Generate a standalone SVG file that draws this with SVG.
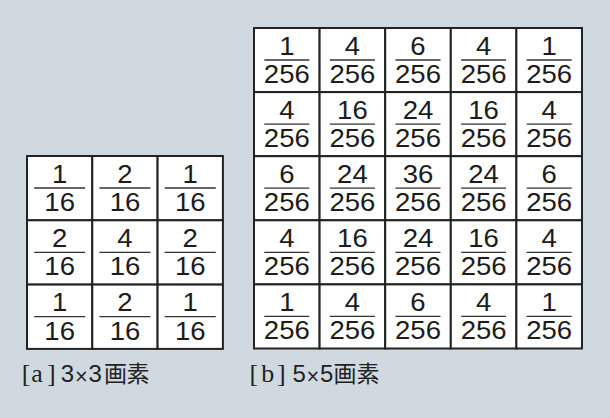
<svg xmlns="http://www.w3.org/2000/svg" width="610" height="418" viewBox="0 0 610 418">
<style>
.bg{fill:#d0d9df}
.cell{fill:#fff;stroke:#222;stroke-width:2}
.n{font-family:"Liberation Sans",Arial,sans-serif;font-size:25px;fill:#1c1c1c;text-anchor:middle}
.bar{stroke:#333;stroke-width:1.3}
.lbl{fill:#222}
.ser{font-family:"Liberation Serif","Times New Roman",serif;font-size:26px}
.dig{font-family:"Liberation Sans",Arial,sans-serif;font-size:24px}
.mul{font-family:"DejaVu Sans",sans-serif;font-size:17px}
.jp{font-family:"Noto Sans CJK JP","Noto Sans",sans-serif;font-size:23px}
</style>
<rect class="bg" x="0" y="0" width="610" height="418"/>
<g id="grid3">
<g id="a-r0c0"><rect class="cell" x="27" y="156" width="65.3" height="64.3"/><text class="n" x="59.65" y="182.5" textLength="15.3" lengthAdjust="spacingAndGlyphs">1</text><line class="bar" x1="34.15" y1="188" x2="85.15" y2="188"/><text class="n" x="59.65" y="211" textLength="30.6" lengthAdjust="spacingAndGlyphs">16</text></g>
<g id="a-r0c1"><rect class="cell" x="92.3" y="156" width="65.3" height="64.3"/><text class="n" x="124.95" y="182.5" textLength="15.3" lengthAdjust="spacingAndGlyphs">2</text><line class="bar" x1="99.45" y1="188" x2="150.45" y2="188"/><text class="n" x="124.95" y="211" textLength="30.6" lengthAdjust="spacingAndGlyphs">16</text></g>
<g id="a-r0c2"><rect class="cell" x="157.6" y="156" width="65.3" height="64.3"/><text class="n" x="190.25" y="182.5" textLength="15.3" lengthAdjust="spacingAndGlyphs">1</text><line class="bar" x1="164.75" y1="188" x2="215.75" y2="188"/><text class="n" x="190.25" y="211" textLength="30.6" lengthAdjust="spacingAndGlyphs">16</text></g>
<g id="a-r1c0"><rect class="cell" x="27" y="220.3" width="65.3" height="64.3"/><text class="n" x="59.65" y="246.8" textLength="15.3" lengthAdjust="spacingAndGlyphs">2</text><line class="bar" x1="34.15" y1="252.3" x2="85.15" y2="252.3"/><text class="n" x="59.65" y="275.3" textLength="30.6" lengthAdjust="spacingAndGlyphs">16</text></g>
<g id="a-r1c1"><rect class="cell" x="92.3" y="220.3" width="65.3" height="64.3"/><text class="n" x="124.95" y="246.8" textLength="15.3" lengthAdjust="spacingAndGlyphs">4</text><line class="bar" x1="99.45" y1="252.3" x2="150.45" y2="252.3"/><text class="n" x="124.95" y="275.3" textLength="30.6" lengthAdjust="spacingAndGlyphs">16</text></g>
<g id="a-r1c2"><rect class="cell" x="157.6" y="220.3" width="65.3" height="64.3"/><text class="n" x="190.25" y="246.8" textLength="15.3" lengthAdjust="spacingAndGlyphs">2</text><line class="bar" x1="164.75" y1="252.3" x2="215.75" y2="252.3"/><text class="n" x="190.25" y="275.3" textLength="30.6" lengthAdjust="spacingAndGlyphs">16</text></g>
<g id="a-r2c0"><rect class="cell" x="27" y="284.6" width="65.3" height="64.3"/><text class="n" x="59.65" y="311.1" textLength="15.3" lengthAdjust="spacingAndGlyphs">1</text><line class="bar" x1="34.15" y1="316.6" x2="85.15" y2="316.6"/><text class="n" x="59.65" y="339.6" textLength="30.6" lengthAdjust="spacingAndGlyphs">16</text></g>
<g id="a-r2c1"><rect class="cell" x="92.3" y="284.6" width="65.3" height="64.3"/><text class="n" x="124.95" y="311.1" textLength="15.3" lengthAdjust="spacingAndGlyphs">2</text><line class="bar" x1="99.45" y1="316.6" x2="150.45" y2="316.6"/><text class="n" x="124.95" y="339.6" textLength="30.6" lengthAdjust="spacingAndGlyphs">16</text></g>
<g id="a-r2c2"><rect class="cell" x="157.6" y="284.6" width="65.3" height="64.3"/><text class="n" x="190.25" y="311.1" textLength="15.3" lengthAdjust="spacingAndGlyphs">1</text><line class="bar" x1="164.75" y1="316.6" x2="215.75" y2="316.6"/><text class="n" x="190.25" y="339.6" textLength="30.6" lengthAdjust="spacingAndGlyphs">16</text></g>
</g>
<g id="grid5">
<g id="b-r0c0"><rect class="cell" x="254" y="28" width="65.6" height="64.1"/><text class="n" x="286.8" y="54.5" textLength="15.3" lengthAdjust="spacingAndGlyphs">1</text><line class="bar" x1="264.3" y1="60" x2="309.3" y2="60"/><text class="n" x="286.8" y="83" textLength="45.9" lengthAdjust="spacingAndGlyphs">256</text></g>
<g id="b-r0c1"><rect class="cell" x="319.6" y="28" width="65.6" height="64.1"/><text class="n" x="352.4" y="54.5" textLength="15.3" lengthAdjust="spacingAndGlyphs">4</text><line class="bar" x1="329.9" y1="60" x2="374.9" y2="60"/><text class="n" x="352.4" y="83" textLength="45.9" lengthAdjust="spacingAndGlyphs">256</text></g>
<g id="b-r0c2"><rect class="cell" x="385.2" y="28" width="65.6" height="64.1"/><text class="n" x="418" y="54.5" textLength="15.3" lengthAdjust="spacingAndGlyphs">6</text><line class="bar" x1="395.5" y1="60" x2="440.5" y2="60"/><text class="n" x="418" y="83" textLength="45.9" lengthAdjust="spacingAndGlyphs">256</text></g>
<g id="b-r0c3"><rect class="cell" x="450.8" y="28" width="65.6" height="64.1"/><text class="n" x="483.6" y="54.5" textLength="15.3" lengthAdjust="spacingAndGlyphs">4</text><line class="bar" x1="461.1" y1="60" x2="506.1" y2="60"/><text class="n" x="483.6" y="83" textLength="45.9" lengthAdjust="spacingAndGlyphs">256</text></g>
<g id="b-r0c4"><rect class="cell" x="516.4" y="28" width="65.6" height="64.1"/><text class="n" x="549.2" y="54.5" textLength="15.3" lengthAdjust="spacingAndGlyphs">1</text><line class="bar" x1="526.7" y1="60" x2="571.7" y2="60"/><text class="n" x="549.2" y="83" textLength="45.9" lengthAdjust="spacingAndGlyphs">256</text></g>
<g id="b-r1c0"><rect class="cell" x="254" y="92.1" width="65.6" height="64.1"/><text class="n" x="286.8" y="118.6" textLength="15.3" lengthAdjust="spacingAndGlyphs">4</text><line class="bar" x1="264.3" y1="124.1" x2="309.3" y2="124.1"/><text class="n" x="286.8" y="147.1" textLength="45.9" lengthAdjust="spacingAndGlyphs">256</text></g>
<g id="b-r1c1"><rect class="cell" x="319.6" y="92.1" width="65.6" height="64.1"/><text class="n" x="352.4" y="118.6" textLength="30.6" lengthAdjust="spacingAndGlyphs">16</text><line class="bar" x1="329.9" y1="124.1" x2="374.9" y2="124.1"/><text class="n" x="352.4" y="147.1" textLength="45.9" lengthAdjust="spacingAndGlyphs">256</text></g>
<g id="b-r1c2"><rect class="cell" x="385.2" y="92.1" width="65.6" height="64.1"/><text class="n" x="418" y="118.6" textLength="30.6" lengthAdjust="spacingAndGlyphs">24</text><line class="bar" x1="395.5" y1="124.1" x2="440.5" y2="124.1"/><text class="n" x="418" y="147.1" textLength="45.9" lengthAdjust="spacingAndGlyphs">256</text></g>
<g id="b-r1c3"><rect class="cell" x="450.8" y="92.1" width="65.6" height="64.1"/><text class="n" x="483.6" y="118.6" textLength="30.6" lengthAdjust="spacingAndGlyphs">16</text><line class="bar" x1="461.1" y1="124.1" x2="506.1" y2="124.1"/><text class="n" x="483.6" y="147.1" textLength="45.9" lengthAdjust="spacingAndGlyphs">256</text></g>
<g id="b-r1c4"><rect class="cell" x="516.4" y="92.1" width="65.6" height="64.1"/><text class="n" x="549.2" y="118.6" textLength="15.3" lengthAdjust="spacingAndGlyphs">4</text><line class="bar" x1="526.7" y1="124.1" x2="571.7" y2="124.1"/><text class="n" x="549.2" y="147.1" textLength="45.9" lengthAdjust="spacingAndGlyphs">256</text></g>
<g id="b-r2c0"><rect class="cell" x="254" y="156.2" width="65.6" height="64.1"/><text class="n" x="286.8" y="182.7" textLength="15.3" lengthAdjust="spacingAndGlyphs">6</text><line class="bar" x1="264.3" y1="188.2" x2="309.3" y2="188.2"/><text class="n" x="286.8" y="211.2" textLength="45.9" lengthAdjust="spacingAndGlyphs">256</text></g>
<g id="b-r2c1"><rect class="cell" x="319.6" y="156.2" width="65.6" height="64.1"/><text class="n" x="352.4" y="182.7" textLength="30.6" lengthAdjust="spacingAndGlyphs">24</text><line class="bar" x1="329.9" y1="188.2" x2="374.9" y2="188.2"/><text class="n" x="352.4" y="211.2" textLength="45.9" lengthAdjust="spacingAndGlyphs">256</text></g>
<g id="b-r2c2"><rect class="cell" x="385.2" y="156.2" width="65.6" height="64.1"/><text class="n" x="418" y="182.7" textLength="30.6" lengthAdjust="spacingAndGlyphs">36</text><line class="bar" x1="395.5" y1="188.2" x2="440.5" y2="188.2"/><text class="n" x="418" y="211.2" textLength="45.9" lengthAdjust="spacingAndGlyphs">256</text></g>
<g id="b-r2c3"><rect class="cell" x="450.8" y="156.2" width="65.6" height="64.1"/><text class="n" x="483.6" y="182.7" textLength="30.6" lengthAdjust="spacingAndGlyphs">24</text><line class="bar" x1="461.1" y1="188.2" x2="506.1" y2="188.2"/><text class="n" x="483.6" y="211.2" textLength="45.9" lengthAdjust="spacingAndGlyphs">256</text></g>
<g id="b-r2c4"><rect class="cell" x="516.4" y="156.2" width="65.6" height="64.1"/><text class="n" x="549.2" y="182.7" textLength="15.3" lengthAdjust="spacingAndGlyphs">6</text><line class="bar" x1="526.7" y1="188.2" x2="571.7" y2="188.2"/><text class="n" x="549.2" y="211.2" textLength="45.9" lengthAdjust="spacingAndGlyphs">256</text></g>
<g id="b-r3c0"><rect class="cell" x="254" y="220.3" width="65.6" height="64.1"/><text class="n" x="286.8" y="246.8" textLength="15.3" lengthAdjust="spacingAndGlyphs">4</text><line class="bar" x1="264.3" y1="252.3" x2="309.3" y2="252.3"/><text class="n" x="286.8" y="275.3" textLength="45.9" lengthAdjust="spacingAndGlyphs">256</text></g>
<g id="b-r3c1"><rect class="cell" x="319.6" y="220.3" width="65.6" height="64.1"/><text class="n" x="352.4" y="246.8" textLength="30.6" lengthAdjust="spacingAndGlyphs">16</text><line class="bar" x1="329.9" y1="252.3" x2="374.9" y2="252.3"/><text class="n" x="352.4" y="275.3" textLength="45.9" lengthAdjust="spacingAndGlyphs">256</text></g>
<g id="b-r3c2"><rect class="cell" x="385.2" y="220.3" width="65.6" height="64.1"/><text class="n" x="418" y="246.8" textLength="30.6" lengthAdjust="spacingAndGlyphs">24</text><line class="bar" x1="395.5" y1="252.3" x2="440.5" y2="252.3"/><text class="n" x="418" y="275.3" textLength="45.9" lengthAdjust="spacingAndGlyphs">256</text></g>
<g id="b-r3c3"><rect class="cell" x="450.8" y="220.3" width="65.6" height="64.1"/><text class="n" x="483.6" y="246.8" textLength="30.6" lengthAdjust="spacingAndGlyphs">16</text><line class="bar" x1="461.1" y1="252.3" x2="506.1" y2="252.3"/><text class="n" x="483.6" y="275.3" textLength="45.9" lengthAdjust="spacingAndGlyphs">256</text></g>
<g id="b-r3c4"><rect class="cell" x="516.4" y="220.3" width="65.6" height="64.1"/><text class="n" x="549.2" y="246.8" textLength="15.3" lengthAdjust="spacingAndGlyphs">4</text><line class="bar" x1="526.7" y1="252.3" x2="571.7" y2="252.3"/><text class="n" x="549.2" y="275.3" textLength="45.9" lengthAdjust="spacingAndGlyphs">256</text></g>
<g id="b-r4c0"><rect class="cell" x="254" y="284.4" width="65.6" height="64.1"/><text class="n" x="286.8" y="310.9" textLength="15.3" lengthAdjust="spacingAndGlyphs">1</text><line class="bar" x1="264.3" y1="316.4" x2="309.3" y2="316.4"/><text class="n" x="286.8" y="339.4" textLength="45.9" lengthAdjust="spacingAndGlyphs">256</text></g>
<g id="b-r4c1"><rect class="cell" x="319.6" y="284.4" width="65.6" height="64.1"/><text class="n" x="352.4" y="310.9" textLength="15.3" lengthAdjust="spacingAndGlyphs">4</text><line class="bar" x1="329.9" y1="316.4" x2="374.9" y2="316.4"/><text class="n" x="352.4" y="339.4" textLength="45.9" lengthAdjust="spacingAndGlyphs">256</text></g>
<g id="b-r4c2"><rect class="cell" x="385.2" y="284.4" width="65.6" height="64.1"/><text class="n" x="418" y="310.9" textLength="15.3" lengthAdjust="spacingAndGlyphs">6</text><line class="bar" x1="395.5" y1="316.4" x2="440.5" y2="316.4"/><text class="n" x="418" y="339.4" textLength="45.9" lengthAdjust="spacingAndGlyphs">256</text></g>
<g id="b-r4c3"><rect class="cell" x="450.8" y="284.4" width="65.6" height="64.1"/><text class="n" x="483.6" y="310.9" textLength="15.3" lengthAdjust="spacingAndGlyphs">4</text><line class="bar" x1="461.1" y1="316.4" x2="506.1" y2="316.4"/><text class="n" x="483.6" y="339.4" textLength="45.9" lengthAdjust="spacingAndGlyphs">256</text></g>
<g id="b-r4c4"><rect class="cell" x="516.4" y="284.4" width="65.6" height="64.1"/><text class="n" x="549.2" y="310.9" textLength="15.3" lengthAdjust="spacingAndGlyphs">1</text><line class="bar" x1="526.7" y1="316.4" x2="571.7" y2="316.4"/><text class="n" x="549.2" y="339.4" textLength="45.9" lengthAdjust="spacingAndGlyphs">256</text></g>
</g>
<g id="labels">
<text id="label-a" class="lbl" y="382"><tspan class="ser" x="21.7 31.3 47">[a]</tspan><tspan class="dig" x="60.8">3</tspan><tspan class="mul" x="74.2">×</tspan><tspan class="dig" x="88.5">3</tspan><tspan class="jp" x="104 126.5">画素</tspan></text>
<text id="label-b" class="lbl" y="382"><tspan class="ser" x="249.5 261.3 277">[b]</tspan><tspan class="dig" x="292.4">5</tspan><tspan class="mul" x="305.8">×</tspan><tspan class="dig" x="320.1">5</tspan><tspan class="jp" x="333.5 356.6">画素</tspan></text>
</g>
</svg>
